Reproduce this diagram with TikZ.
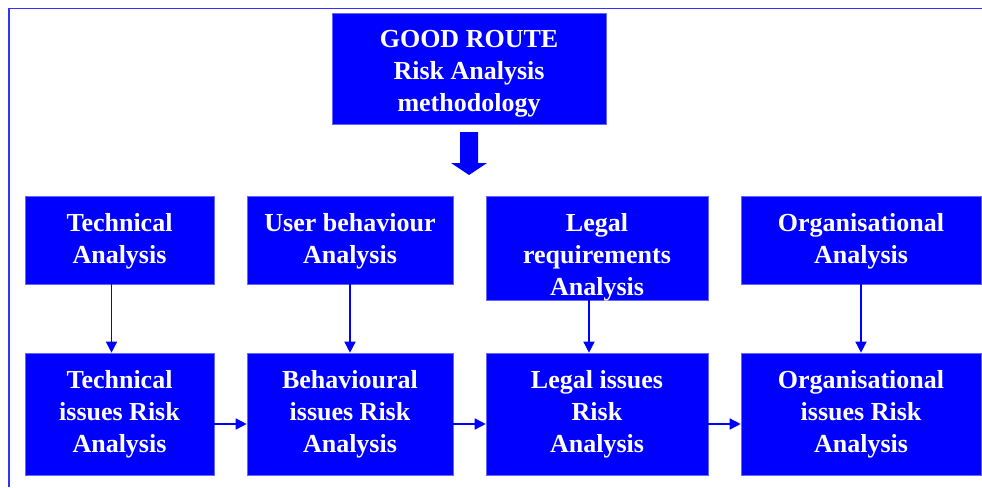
\documentclass[tikz,border=0pt]{standalone}
\usepackage{fontspec}
\setmainfont{Liberation Serif}
\usepackage{tikz}
\usetikzlibrary{arrows.meta, positioning}

\definecolor{boxblue}{RGB}{0,0,255}
\definecolor{framblue}{RGB}{50,50,255}

\tikzset{
  riskbox/.style={rectangle, fill=boxblue, draw=boxblue!60!white, line width=0.6pt,
    inner sep=0pt},
  boxtext/.style={text=white, align=center, inner sep=0pt, anchor=north,
    font=\fontsize{26}{32}\selectfont\bfseries},
  flow/.style={-{Triangle[length=11pt,width=11pt]}, boxblue, line width=1.5pt}
}

\begin{document}
\begin{tikzpicture}[x=1pt, y=-1pt, node distance=17.5pt]
  \useasboundingbox (0,0) rectangle (982,487);

  % frame
  \draw[framblue, line width=1.5pt] (9,487) -- (9,8.5) -- (982,8.5);

  % top box
  \node[riskbox, minimum width=274pt, minimum height=111pt] (good) at (469,68.5) {};
  \node[boxtext, below=of good.north] (goodtxt) {GOOD ROUTE\\Risk Analysis\\methodology};

  % big arrow
  \fill[boxblue] (460,132) -- (478,132) -- (478,163) -- (487,163)
    -- (469,175) -- (451,163) -- (460,163) -- cycle;

  % analysis row
  \node[riskbox, minimum width=189pt, minimum height=88pt] (tech) at (119.5,240) {};
  \node[riskbox, minimum width=206pt, minimum height=88pt] (user) at (350,240) {};
  \node[riskbox, minimum width=222pt, minimum height=104pt] (legal) at (597,248) {};
  \node[riskbox, minimum width=240pt, minimum height=88pt] (org) at (861,240) {};
  \node[boxtext, below=of tech.north] {Technical\\Analysis};
  \node[boxtext, below=of user.north] {User behaviour\\Analysis};
  \node[boxtext, below=of legal.north] {Legal\\requirements\\Analysis};
  \node[boxtext, below=of org.north] {Organisational\\Analysis};

  % issues row
  \node[riskbox, minimum width=189pt, minimum height=122pt] (techrisk) at (119.5,414) {};
  \node[riskbox, minimum width=206pt, minimum height=122pt] (userrisk) at (350,414) {};
  \node[riskbox, minimum width=222pt, minimum height=122pt] (legalrisk) at (597,414) {};
  \node[riskbox, minimum width=240pt, minimum height=122pt] (orgrisk) at (861,414) {};
  \node[boxtext, below=of techrisk.north] {Technical\\issues Risk\\Analysis};
  \node[boxtext, below=of userrisk.north] {Behavioural\\issues Risk\\Analysis};
  \node[boxtext, below=of legalrisk.north] {Legal issues\\Risk\\Analysis};
  \node[boxtext, below=of orgrisk.north] {Organisational\\issues Risk\\Analysis};

  % down arrows
  \draw[flow] ([xshift=-8pt]tech.south) -- ([xshift=-8pt]techrisk.north);
  \draw[flow] (user.south) -- (userrisk.north);
  \draw[flow] ([xshift=-8pt]legal.south) -- ([xshift=-8pt]legalrisk.north);
  \draw[flow] (org.south) -- (orgrisk.north);

  % across arrows
  \draw[flow] ([yshift=-10pt]techrisk.east) -- ([yshift=-10pt]userrisk.west);
  \draw[flow] ([yshift=-10pt]userrisk.east) -- ([yshift=-10pt]legalrisk.west);
  \draw[flow] ([yshift=-10pt]legalrisk.east) -- ([yshift=-10pt]orgrisk.west);
\end{tikzpicture}
\end{document}
